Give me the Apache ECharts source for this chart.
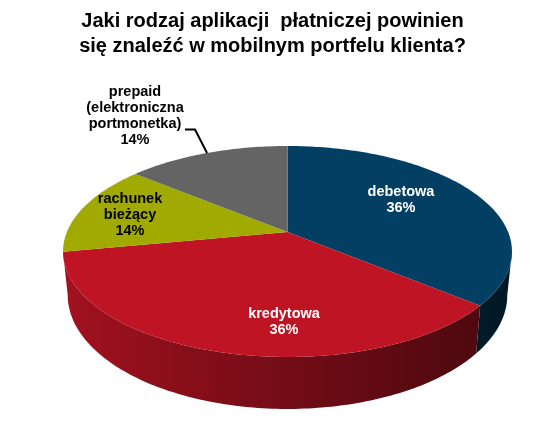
<!DOCTYPE html>
<html><head><meta charset="utf-8">
<script src="https://cdn.jsdelivr.net/npm/echarts@6/dist/echarts.min.js"></script>
<style>html,body{margin:0;padding:0;background:#fff}#c{width:559px;height:441px}</style>
</head><body><div id="c"></div>
<script>
// ---- data ----
const categories = ['debetowa', 'kredytowa', 'rachunek\nbieżący', 'prepaid\n(elektroniczna\nportmonetka)'];
const values = [36, 36, 14, 14];
const percentLabels = ['36%', '36%', '14%', '14%'];
const titleLines = ['Jaki rodzaj aplikacji  płatniczej powinien', 'się znaleźć w mobilnym portfelu klienta?'];

// ---- style / layout ----
const colors = ['#023f62', '#be1424', '#a0aa00', '#646464'];
const labelColors = ['#ffffff', '#ffffff', '#000000', '#000000'];
const labelAnchors = [[401, 200], [284, 322], [130, 215], [135, 116]];
const leaderStarts = { 3: [[185, 129.5], [195, 129.5]] };
const geo = {
  cx: 287.5, k: 0.1848,
  top: { cy: 232, A: 220.6, B: 101.9 },
  bottom: { cy: 274, A: 216, B: 110 }
};

function proj(face, theta, r) {
  const t = theta * Math.PI / 180;
  const u = r * Math.sin(t), v = r * Math.cos(t);
  const w = 1 + geo.k * v;
  return [geo.cx + face.A * u / w, face.cy - face.B * v / w];
}
function shade(hex, f) {
  const n = parseInt(hex.slice(1), 16);
  const r = Math.round(((n >> 16) & 255) * f), g = Math.round(((n >> 8) & 255) * f), b = Math.round((n & 255) * f);
  return 'rgb(' + r + ',' + g + ',' + b + ')';
}
function wallGradient(hex) {
  return { type: 'linear', x: 63, y: 0, x2: 512, y2: 0, global: true,
    colorStops: [{ offset: 0, color: shade(hex, 0.85) }, { offset: 0.5, color: shade(hex, 0.6) }, { offset: 1, color: shade(hex, 0.38) }] };
}

const total = values.reduce((a, b) => a + b, 0);
const starts = [];
(function () { let acc = 0; values.forEach(v => { starts.push(acc / total * 360); acc += v; }); })();

// visible outer wall lies between the silhouette tangent angles
const tangent = Math.acos(-geo.k) * 180 / Math.PI;
const wallMin = tangent, wallMax = 360 - tangent;

function arc(face, a0, a1) {
  const pts = [];
  const n = Math.max(2, Math.ceil(Math.abs(a1 - a0)) + 1);
  for (let j = 0; j < n; j++) pts.push(proj(face, a0 + (a1 - a0) * j / (n - 1), 1));
  return pts;
}

function renderItem(params, api) {
  const i = params.dataIndex;
  const a0 = starts[i];
  const a1 = a0 + api.value(0) / total * 360;
  const children = [];
  const w0 = Math.max(a0, wallMin), w1 = Math.min(a1, wallMax);
  if (w1 > w0) {
    const pts = arc(geo.top, w0, w1).concat(arc(geo.bottom, w0, w1).reverse());
    children.push({ type: 'polygon', z2: 1, shape: { points: pts }, style: { fill: wallGradient(colors[i]) } });
  }
  const topPts = [proj(geo.top, 0, 0)].concat(arc(geo.top, a0, a1));
  children.push({ type: 'polygon', z2: 10, shape: { points: topPts }, style: { fill: colors[i] } });
  children.push({ type: 'text', z2: 20, style: {
    text: categories[i] + '\n' + percentLabels[i], x: labelAnchors[i][0], y: labelAnchors[i][1],
    align: 'center', verticalAlign: 'middle', fill: labelColors[i],
    fontFamily: '"Liberation Sans", Arial, sans-serif', fontWeight: 'bold', fontSize: 14.5, lineHeight: 16 } });
  if (leaderStarts[i]) {
    const end = proj(geo.top, (a0 + a1) / 2, 1);
    children.push({ type: 'polyline', z2: 20, shape: { points: leaderStarts[i].concat([end]) },
      style: { stroke: '#000', lineWidth: 2, fill: null } });
  }
  return { type: 'group', children };
}

const chart = echarts.init(document.getElementById('c'), null, { renderer: 'canvas' });
chart.setOption({
  backgroundColor: '#ffffff',
  animation: false,
  graphic: [{
    type: 'text', x: 272.5, y: 9, z: 100,
    style: { text: titleLines.join('\n'), align: 'center', verticalAlign: 'top',
      fontFamily: '"Liberation Sans", Arial, sans-serif', fontWeight: 'bold', fontSize: 20, lineHeight: 25, fill: '#000' }
  }],
  series: [{
    type: 'custom', coordinateSystem: 'none',
    data: values.map(v => [v]),
    renderItem: renderItem
  }]
});
</script></body></html>
